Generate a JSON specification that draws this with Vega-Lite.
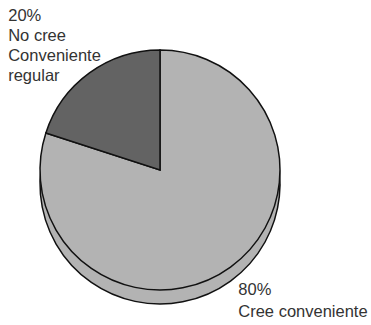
{
  "$schema": "https://vega.github.io/schema/vega-lite/v6.json",
  "width": 320,
  "height": 340,
  "padding": {"left": 0, "top": 0, "right": 51, "bottom": 0},
  "background": "white",
  "view": {"stroke": null},
  "data": {"values": [
    {"categoria": "Cree conveniente", "valor": 80, "etiqueta": "80%\nCree conveniente"},
    {"categoria": "No cree Conveniente regular", "valor": 20, "etiqueta": "20%\nNo cree\nConveniente\nregular"}
  ]},
  "encoding": {
    "theta": {"field": "valor", "type": "quantitative", "stack": true}
  },
  "layer": [
    {
      "mark": {"type": "arc", "outerRadius": 120, "yOffset": 14, "fill": "#b3b3b3", "stroke": "#111", "strokeWidth": 1.5},
      "encoding": {"order": {"field": "categoria"}}
    },
    {
      "mark": {"type": "arc", "outerRadius": 120, "stroke": "#111", "strokeWidth": 1.5},
      "encoding": {
        "color": {"field": "categoria", "type": "nominal", "legend": null,
          "scale": {"domain": ["Cree conveniente", "No cree Conveniente regular"], "range": ["#b3b3b3", "#636363"]}},
        "order": {"field": "categoria"}
      }
    },
    {
      "mark": {"type": "text", "radius": 180, "dx": -46, "dy": -3, "align": "left", "baseline": "alphabetic", "lineBreak": "\n", "lineHeight": 20, "font": "Liberation Sans", "fontSize": 16.5, "color": "#333"},
      "encoding": {
        "order": {"field": "categoria"},
        "text": {"condition": {"test": "datum.valor == 20", "field": "etiqueta"}, "value": ""}
      }
    },
    {
      "mark": {"type": "text", "radius": 157, "dx": -14, "dy": -2, "align": "left", "baseline": "alphabetic", "lineBreak": "\n", "lineHeight": 22, "font": "Liberation Sans", "fontSize": 16.5, "color": "#333"},
      "encoding": {
        "order": {"field": "categoria"},
        "text": {"condition": {"test": "datum.valor == 80", "field": "etiqueta"}, "value": ""}
      }
    }
  ]
}
